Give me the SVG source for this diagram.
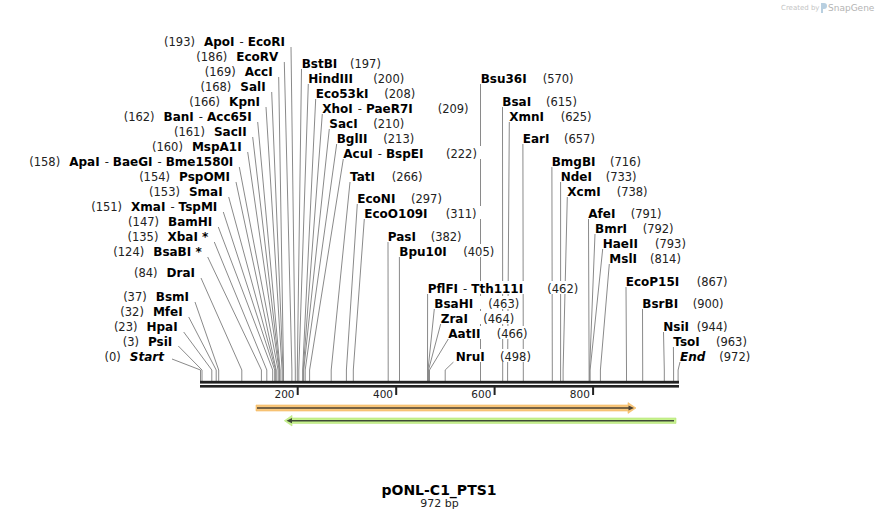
<svg xmlns="http://www.w3.org/2000/svg" width="879" height="520" viewBox="0 0 879 520">
<style>
text{font-family:"DejaVu Sans",Verdana,"Liberation Sans",sans-serif}
.nm{font-size:12px;font-weight:bold;fill:#000}
.num{font-size:11.5px;font-weight:normal;font-style:normal;fill:#222}
.e{text-anchor:end}
.it{font-style:italic}
.bg{fill:#fff}
.ln{fill:none;stroke:#8a8a8a;stroke-width:1}
.ax{fill:#222}
.tk{font-size:10.5px;fill:#222;text-anchor:end}
</style>
<rect width="879" height="520" fill="#fff"/>
<g id="watermark">
<text x="781" y="10" style="font-size:7px;fill:#c4c4c4">Created by</text>
<path d="M821,3 h3 a3,3 0 0 1 0,6 h-1 v4 h-2 z" fill="#b8cfe0"/>
<text x="828" y="11" style="font-size:9px;fill:#b4b4b4">SnapGene</text>
</g>
<g id="connectors">
<path class="ln" d="M291,47 L295.3,370 V381"/>
<path class="ln" d="M284.3,62 L291.9,370 V381"/>
<path class="ln" d="M278.7,77 L283.5,370 V381"/>
<path class="ln" d="M271.7,92 L283,370 V381"/>
<path class="ln" d="M266,107 L282.1,370 V381"/>
<path class="ln" d="M257.7,122 L280.1,370 V381"/>
<path class="ln" d="M252.7,137 L279.6,370 V381"/>
<path class="ln" d="M247.7,152 L279.1,370 V381"/>
<path class="ln" d="M239.3,167 L278.1,370 V381"/>
<path class="ln" d="M236,182 L276.2,370 V381"/>
<path class="ln" d="M228.7,197 L275.7,370 V381"/>
<path class="ln" d="M223.3,212 L274.7,370 V381"/>
<path class="ln" d="M218.3,227 L272.7,370 V381"/>
<path class="ln" d="M214.3,242 L266.8,370 V381"/>
<path class="ln" d="M207.7,257 L261.4,370 V381"/>
<path class="ln" d="M201,278 L241.8,370 V381"/>
<path class="ln" d="M195,302 L218.7,370 V381"/>
<path class="ln" d="M188.7,317 L216.2,370 V381"/>
<path class="ln" d="M183.7,332 L211.8,370 V381"/>
<path class="ln" d="M178.3,346 L202,370 V381"/>
<path class="ln" d="M172,359 L200.5,370 V381"/>
<path class="ln" d="M301.5,69 L297.3,370 V381"/>
<path class="ln" d="M308.3,84 L298.8,370 V381"/>
<path class="ln" d="M315.7,99 L302.7,370 V381"/>
<path class="ln" d="M322.3,114 L303.2,370 V381"/>
<path class="ln" d="M329.3,129 L303.7,370 V381"/>
<path class="ln" d="M336.7,144 L305.2,370 V381"/>
<path class="ln" d="M343.3,159 L309.6,370 V381"/>
<path class="ln" d="M350,182 L331.2,370 V381"/>
<path class="ln" d="M357.3,204 L346.4,370 V381"/>
<path class="ln" d="M364.3,219 L353.3,370 V381"/>
<path class="ln" d="M388,242 L388.2,370 V381"/>
<path class="ln" d="M399.4,257 L399.5,370 V381"/>
<path class="ln" d="M427.6,294 L427.5,370 V381"/>
<path class="ln" d="M434.3,309 L428,370 V381"/>
<path class="ln" d="M440.7,324 L428.5,370 V381"/>
<path class="ln" d="M448.3,339 L429.5,370 V381"/>
<path class="ln" d="M453.5,362 L445.2,370 V381"/>
<path class="ln" d="M480.5,84 L480.5,370 V381"/>
<path class="ln" d="M502.5,107 L502.7,370 V381"/>
<path class="ln" d="M509.3,122 L507.6,370 V381"/>
<path class="ln" d="M522.9,144 L523.3,370 V381"/>
<path class="ln" d="M551.9,167 L552.3,370 V381"/>
<path class="ln" d="M560.6,182 L560.6,370 V381"/>
<path class="ln" d="M567.3,197 L563.1,370 V381"/>
<path class="ln" d="M588.5,219 L589.1,370 V381"/>
<path class="ln" d="M595,234 L589.6,370 V381"/>
<path class="ln" d="M602.7,249 L590.1,370 V381"/>
<path class="ln" d="M609.3,264 L600.4,370 V381"/>
<path class="ln" d="M626,287 L626.5,370 V381"/>
<path class="ln" d="M642.5,309 L642.7,370 V381"/>
<path class="ln" d="M663.5,332 L664.3,370 V381"/>
<path class="ln" d="M673.4,347 L673.6,370 V381"/>
<path class="ln" d="M680,362 L678.1,370 V381"/>
</g>
<g id="backbone">
<rect class="ax" x="200" y="380.8" width="479" height="2.8"/>
<rect class="ax" x="200" y="385" width="479" height="2.6"/>
<rect class="ax" x="296.7" y="387" width="2" height="8"/>
<rect class="ax" x="395.2" y="387" width="2" height="8"/>
<rect class="ax" x="493.6" y="387" width="2" height="8"/>
<rect class="ax" x="592.1" y="387" width="2" height="8"/>
<text class="tk" x="294.5" y="397.5">200</text>
<text class="tk" x="393" y="397.5">400</text>
<text class="tk" x="491.4" y="397.5">600</text>
<text class="tk" x="589.9" y="397.5">800</text>
</g>
<g id="feature-forward">
<path d="M256,405 H628 V402.6 L636,408 L628,413.4 V411 H256 Z" fill="#f9c77c" stroke="#f3b85f" stroke-width="0.6"/>
<path d="M257,408 H630" stroke="#4a4032" stroke-width="1.6" fill="none"/>
<path d="M628.5,405.4 L634,408 L628.5,410.6 Z" fill="#4a4032"/>
</g>
<g id="feature-reverse">
<path d="M676,418 H292 V415.4 L284.3,420.7 L292,426 V423.4 H676 Z" fill="#c7f28e" stroke="#b5e277" stroke-width="0.6"/>
<path d="M674,420.7 H289" stroke="#3f4a36" stroke-width="1.6" fill="none"/>
<path d="M292,418.1 L286.5,420.7 L292,423.3 Z" fill="#3f4a36"/>
</g>
<g id="site-193"><rect class="bg" x="155.3" y="34" width="131.7" height="13"/><text class="nm e" x="285" y="46.4"><tspan class="num">(193)</tspan><tspan dx="9">ApoI</tspan><tspan class="num" dx="5">-</tspan><tspan dx="4">EcoRI</tspan></text></g>
<g id="site-186"><rect class="bg" x="195.7" y="49" width="84.6" height="13"/><text class="nm e" x="278.3" y="61.4"><tspan class="num">(186)</tspan><tspan dx="9">EcoRV</tspan></text></g>
<g id="site-169"><rect class="bg" x="202.3" y="64" width="72.4" height="13"/><text class="nm e" x="272.7" y="76.4"><tspan class="num">(169)</tspan><tspan dx="9">AccI</tspan></text></g>
<g id="site-168"><rect class="bg" x="198" y="79" width="69.7" height="13"/><text class="nm e" x="265.7" y="91.4"><tspan class="num">(168)</tspan><tspan dx="9">SalI</tspan></text></g>
<g id="site-166"><rect class="bg" x="188.7" y="94" width="73.3" height="13"/><text class="nm e" x="260" y="106.4"><tspan class="num">(166)</tspan><tspan dx="9">KpnI</tspan></text></g>
<g id="site-162"><rect class="bg" x="114.7" y="109" width="139" height="13"/><text class="nm e" x="251.7" y="121.4"><tspan class="num">(162)</tspan><tspan dx="9">BanI</tspan><tspan class="num" dx="5">-</tspan><tspan dx="4">Acc65I</tspan></text></g>
<g id="site-161"><rect class="bg" x="170.7" y="124" width="78" height="13"/><text class="nm e" x="246.7" y="136.4"><tspan class="num">(161)</tspan><tspan dx="9">SacII</tspan></text></g>
<g id="site-160"><rect class="bg" x="153" y="139" width="90.7" height="13"/><text class="nm e" x="241.7" y="151.4"><tspan class="num">(160)</tspan><tspan dx="9">MspA1I</tspan></text></g>
<g id="site-158"><rect class="bg" x="9.7" y="154" width="225.6" height="13"/><text class="nm e" x="233.3" y="166.4"><tspan class="num">(158)</tspan><tspan dx="9">ApaI</tspan><tspan class="num" dx="5">-</tspan><tspan dx="4">BaeGI</tspan><tspan class="num" dx="5">-</tspan><tspan dx="4">Bme1580I</tspan></text></g>
<g id="site-154"><rect class="bg" x="136.3" y="169" width="95.7" height="13"/><text class="nm e" x="230" y="181.4"><tspan class="num">(154)</tspan><tspan dx="9">PspOMI</tspan></text></g>
<g id="site-153"><rect class="bg" x="147.3" y="184" width="77.4" height="13"/><text class="nm e" x="222.7" y="196.4"><tspan class="num">(153)</tspan><tspan dx="9">SmaI</tspan></text></g>
<g id="site-151"><rect class="bg" x="79.7" y="199" width="139.6" height="13"/><text class="nm e" x="217.3" y="211.4"><tspan class="num">(151)</tspan><tspan dx="9">XmaI</tspan><tspan class="num" dx="5">-</tspan><tspan dx="4">TspMI</tspan></text></g>
<g id="site-147"><rect class="bg" x="125.7" y="214" width="88.6" height="13"/><text class="nm e" x="212.3" y="226.4"><tspan class="num">(147)</tspan><tspan dx="9">BamHI</tspan></text></g>
<g id="site-135"><rect class="bg" x="126.3" y="229" width="84" height="13"/><text class="nm e" x="208.3" y="241.4"><tspan class="num">(135)</tspan><tspan dx="9">XbaI *</tspan></text></g>
<g id="site-124"><rect class="bg" x="108" y="244" width="95.7" height="13"/><text class="nm e" x="201.7" y="256.4"><tspan class="num">(124)</tspan><tspan dx="9">BsaBI *</tspan></text></g>
<g id="site-84"><rect class="bg" x="131.3" y="265" width="65.7" height="13"/><text class="nm e" x="195" y="277.4"><tspan class="num">(84)</tspan><tspan dx="9">DraI</tspan></text></g>
<g id="site-37"><rect class="bg" x="120.3" y="289" width="70.7" height="13"/><text class="nm e" x="189" y="301.4"><tspan class="num">(37)</tspan><tspan dx="9">BsmI</tspan></text></g>
<g id="site-32"><rect class="bg" x="119.7" y="304" width="65" height="13"/><text class="nm e" x="182.7" y="316.4"><tspan class="num">(32)</tspan><tspan dx="9">MfeI</tspan></text></g>
<g id="site-23"><rect class="bg" x="111.3" y="319" width="68.4" height="13"/><text class="nm e" x="177.7" y="331.4"><tspan class="num">(23)</tspan><tspan dx="9">HpaI</tspan></text></g>
<g id="site-3"><rect class="bg" x="119.7" y="334" width="54.6" height="13"/><text class="nm e" x="172.3" y="346.4"><tspan class="num">(3)</tspan><tspan dx="9">PsiI</tspan></text></g>
<g id="site-start"><rect class="bg" x="104.7" y="349" width="61.3" height="13"/><text class="nm e" x="164" y="361.4"><tspan class="num">(0)</tspan><tspan class="it" dx="9">Start</tspan></text></g>
<g id="site-197"><rect class="bg" x="299.7" y="56" width="84.3" height="13"/><text class="nm" x="301.7" y="68.4">BstBI</text><text class="num" x="350" y="68.4">(197)</text></g>
<g id="site-200"><rect class="bg" x="306.3" y="71" width="101" height="13"/><text class="nm" x="308.3" y="83.4">HindIII</text><text class="num" x="373.3" y="83.4">(200)</text></g>
<g id="site-208"><rect class="bg" x="313.7" y="86" width="104.6" height="13"/><text class="nm" x="315.7" y="98.4">Eco53kI</text><text class="num" x="384.3" y="98.4">(208)</text></g>
<g id="site-209"><rect class="bg" x="320.3" y="101" width="151.4" height="13"/><text class="nm" x="322.3" y="113.4">XhoI<tspan class="num" dx="5">-</tspan><tspan dx="4">PaeR7I</tspan></text><text class="num" x="437.7" y="113.4">(209)</text></g>
<g id="site-210"><rect class="bg" x="327.3" y="116" width="80" height="13"/><text class="nm" x="329.3" y="128.4">SacI</text><text class="num" x="373.3" y="128.4">(210)</text></g>
<g id="site-213"><rect class="bg" x="334.7" y="131" width="82.6" height="13"/><text class="nm" x="336.7" y="143.4">BglII</text><text class="num" x="383.3" y="143.4">(213)</text></g>
<g id="site-222"><rect class="bg" x="341.3" y="146" width="141.7" height="13"/><text class="nm" x="343.3" y="158.4">AcuI<tspan class="num" dx="5">-</tspan><tspan dx="4">BspEI</tspan></text><text class="num" x="446" y="158.4">(222)</text></g>
<g id="site-266"><rect class="bg" x="348" y="169" width="77.7" height="13"/><text class="nm" x="350" y="181.4">TatI</text><text class="num" x="391.7" y="181.4">(266)</text></g>
<g id="site-297"><rect class="bg" x="355.3" y="191" width="89.7" height="13"/><text class="nm" x="357.3" y="203.4">EcoNI</text><text class="num" x="411" y="203.4">(297)</text></g>
<g id="site-311"><rect class="bg" x="362.3" y="206" width="120.7" height="13"/><text class="nm" x="364.3" y="218.4">EcoO109I</text><text class="num" x="445.7" y="218.4">(311)</text></g>
<g id="site-382"><rect class="bg" x="385.7" y="229" width="79" height="13"/><text class="nm" x="387.7" y="241.4">PasI</text><text class="num" x="430.7" y="241.4">(382)</text></g>
<g id="site-405"><rect class="bg" x="397.3" y="244" width="100" height="13"/><text class="nm" x="399.3" y="256.4">Bpu10I</text><text class="num" x="463.3" y="256.4">(405)</text></g>
<g id="site-462"><rect class="bg" x="425.7" y="281" width="155.6" height="13"/><text class="nm" x="427.7" y="293.4">PflFI<tspan class="num" dx="5">-</tspan><tspan dx="4">Tth111I</tspan></text><text class="num" x="547.3" y="293.4">(462)</text></g>
<g id="site-463"><rect class="bg" x="432.3" y="296" width="89.7" height="13"/><text class="nm" x="434.3" y="308.4">BsaHI</text><text class="num" x="488.3" y="308.4">(463)</text></g>
<g id="site-464"><rect class="bg" x="438.7" y="311" width="78.6" height="13"/><text class="nm" x="440.7" y="323.4">ZraI</text><text class="num" x="483.3" y="323.4">(464)</text></g>
<g id="site-466"><rect class="bg" x="446.3" y="326" width="84.4" height="13"/><text class="nm" x="448.3" y="338.4">AatII</text><text class="num" x="496.7" y="338.4">(466)</text></g>
<g id="site-498"><rect class="bg" x="453.7" y="349" width="80.3" height="13"/><text class="nm" x="455.7" y="361.4">NruI</text><text class="num" x="500" y="361.4">(498)</text></g>
<g id="site-570"><rect class="bg" x="478.7" y="71" width="98" height="13"/><text class="nm" x="480.7" y="83.4">Bsu36I</text><text class="num" x="542.7" y="83.4">(570)</text></g>
<g id="site-615"><rect class="bg" x="500.3" y="94" width="79.7" height="13"/><text class="nm" x="502.3" y="106.4">BsaI</text><text class="num" x="546" y="106.4">(615)</text></g>
<g id="site-625"><rect class="bg" x="507.3" y="109" width="87.4" height="13"/><text class="nm" x="509.3" y="121.4">XmnI</text><text class="num" x="560.7" y="121.4">(625)</text></g>
<g id="site-657"><rect class="bg" x="520.7" y="131" width="77.3" height="13"/><text class="nm" x="522.7" y="143.4">EarI</text><text class="num" x="564" y="143.4">(657)</text></g>
<g id="site-716"><rect class="bg" x="549.7" y="154" width="94.3" height="13"/><text class="nm" x="551.7" y="166.4">BmgBI</text><text class="num" x="610" y="166.4">(716)</text></g>
<g id="site-733"><rect class="bg" x="558.7" y="169" width="81" height="13"/><text class="nm" x="560.7" y="181.4">NdeI</text><text class="num" x="605.7" y="181.4">(733)</text></g>
<g id="site-738"><rect class="bg" x="565.3" y="184" width="85.4" height="13"/><text class="nm" x="567.3" y="196.4">XcmI</text><text class="num" x="616.7" y="196.4">(738)</text></g>
<g id="site-791"><rect class="bg" x="586.3" y="206" width="78.4" height="13"/><text class="nm" x="588.3" y="218.4">AfeI</text><text class="num" x="630.7" y="218.4">(791)</text></g>
<g id="site-792"><rect class="bg" x="593" y="221" width="83.7" height="13"/><text class="nm" x="595" y="233.4">BmrI</text><text class="num" x="642.7" y="233.4">(792)</text></g>
<g id="site-793"><rect class="bg" x="600.7" y="236" width="88.3" height="13"/><text class="nm" x="602.7" y="248.4">HaeII</text><text class="num" x="655" y="248.4">(793)</text></g>
<g id="site-814"><rect class="bg" x="607.3" y="251" width="76.7" height="13"/><text class="nm" x="609.3" y="263.4">MslI</text><text class="num" x="650" y="263.4">(814)</text></g>
<g id="site-867"><rect class="bg" x="623.7" y="274" width="107" height="13"/><text class="nm" x="625.7" y="286.4">EcoP15I</text><text class="num" x="696.7" y="286.4">(867)</text></g>
<g id="site-900"><rect class="bg" x="640.3" y="296" width="86.4" height="13"/><text class="nm" x="642.3" y="308.4">BsrBI</text><text class="num" x="692.7" y="308.4">(900)</text></g>
<g id="site-944"><rect class="bg" x="661.3" y="319" width="69.4" height="13"/><text class="nm" x="663.3" y="331.4">NsiI</text><text class="num" x="696.7" y="331.4">(944)</text></g>
<g id="site-963"><rect class="bg" x="671.3" y="334" width="78.7" height="13"/><text class="nm" x="673.3" y="346.4">TsoI</text><text class="num" x="716" y="346.4">(963)</text></g>
<g id="site-end"><rect class="bg" x="678" y="349" width="75.3" height="13"/><text class="nm it" x="680" y="361.4">End</text><text class="num" x="719.3" y="361.4">(972)</text></g>
<g id="title">
<text x="439" y="495" text-anchor="middle" style="font-size:14px;font-weight:bold;fill:#000">pONL-C1_PTS1</text>
<text x="439.5" y="507.3" text-anchor="middle" style="font-size:11px;fill:#222">972 bp</text>
</g>
</svg>
